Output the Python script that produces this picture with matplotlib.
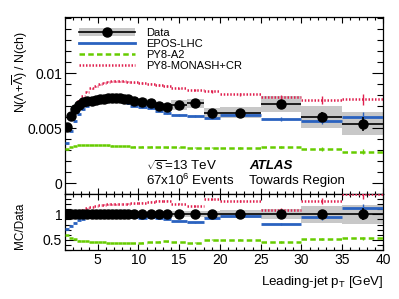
import matplotlib
matplotlib.use("Agg")
import matplotlib.pyplot as plt
import numpy as np
from matplotlib.patches import Patch
from matplotlib.lines import Line2D
from matplotlib.ticker import FixedLocator, MultipleLocator, FuncFormatter

plt.rcParams['font.family'] = ['Liberation Sans', 'DejaVu Sans']
plt.rcParams['mathtext.fontset'] = 'custom'
plt.rcParams['mathtext.rm'] = 'Liberation Sans'
plt.rcParams['mathtext.it'] = 'Liberation Sans:italic'
plt.rcParams['mathtext.bf'] = 'Liberation Sans:bold'

# ---- data ----
bin_edges = [1, 1.5, 2, 2.5, 3, 3.5, 4, 4.5, 5, 5.5, 6, 6.5, 7, 7.5, 8, 8.5, 9,
             10, 11, 12, 13, 14, 16, 18, 20, 25, 30, 35, 40]
data_vals = [0.0051, 0.0061, 0.0067, 0.0071, 0.00733, 0.00743, 0.0075, 0.00755,
             0.0076, 0.00765, 0.0077, 0.00773, 0.00776, 0.00772, 0.00768, 0.0076,
             0.0075, 0.0074, 0.00724, 0.00703, 0.00694, 0.0071, 0.00724, 0.0064,
             0.0064, 0.0072, 0.0060, 0.0054]
data_stat_rel = [0.005, 0.005, 0.005, 0.005, 0.005, 0.005, 0.005, 0.005,
                 0.005, 0.005, 0.005, 0.005, 0.006, 0.006, 0.006, 0.007,
                 0.008, 0.009, 0.010, 0.012, 0.014, 0.015, 0.02, 0.025,
                 0.035, 0.05, 0.08, 0.12]
data_tot_rel = [0.04, 0.04, 0.04, 0.04, 0.04, 0.04, 0.04, 0.04,
                0.04, 0.04, 0.04, 0.04, 0.04, 0.04, 0.04, 0.045,
                0.045, 0.05, 0.05, 0.05, 0.05, 0.06, 0.06, 0.07,
                0.08, 0.10, 0.16, 0.19]
epos_vals = [0.0036, 0.0047, 0.0056, 0.0063, 0.0067, 0.0070, 0.00715, 0.0073,
             0.0074, 0.00748, 0.00752, 0.00755, 0.00752, 0.00745, 0.00735, 0.00724,
             0.00705, 0.00688, 0.0068, 0.00658, 0.00633, 0.00618, 0.00612, 0.00588,
             0.00618, 0.00582, 0.00566, 0.00603]
a2_vals = [0.00305, 0.0033, 0.0034, 0.00345, 0.00347, 0.00348, 0.00347, 0.00346,
           0.00345, 0.00344, 0.00342, 0.0034, 0.00339, 0.00338, 0.00336, 0.00334,
           0.00332, 0.0033, 0.0033, 0.00328, 0.00326, 0.00325, 0.00322, 0.0032,
           0.0032, 0.0033, 0.0031, 0.00285]
monash_vals = [0.0048, 0.0060, 0.0068, 0.0075, 0.0079, 0.0083, 0.0086, 0.0088,
               0.00898, 0.00912, 0.0092, 0.00925, 0.00927, 0.00927, 0.00925, 0.0092,
               0.00915, 0.00908, 0.00905, 0.0089, 0.0088, 0.0086, 0.00845, 0.00835,
               0.00806, 0.0078, 0.00755, 0.0076]
mc_stat_rel = [0.003, 0.003, 0.003, 0.003, 0.003, 0.003, 0.003, 0.003,
               0.003, 0.003, 0.004, 0.004, 0.004, 0.004, 0.005, 0.005,
               0.006, 0.007, 0.008, 0.009, 0.01, 0.01, 0.012, 0.015,
               0.02, 0.03, 0.05, 0.07]
legend_labels = ['Data', 'EPOS-LHC', 'PY8-A2', 'PY8-MONASH+CR']

# ---- derived ----
edges = np.array(bin_edges, dtype=float)
lo, hi = edges[:-1], edges[1:]
xc = 0.5 * (lo + hi)
hw = 0.5 * (hi - lo)
d = np.array(data_vals)
dstat = d * np.array(data_stat_rel)
dtot = d * np.array(data_tot_rel)
mcs = [(np.array(epos_vals), '#2a62c0', '-', 2.0),
       (np.array(a2_vals), '#66cc00', (0, (2.2, 1.3)), 1.8),
       (np.array(monash_vals), '#e0204f', (0, (0.6, 0.7)), 1.8)]
mstat = np.array(mc_stat_rel)

band_col = '#c8c8c8'

fig = plt.figure(figsize=(3.99, 2.99), dpi=100)
W, H = 399.0, 299.0
L, R, T, M, B = 65, 383, 17, 194, 250
ax = fig.add_axes([L / W, 1 - M / H, (R - L) / W, (M - T) / H])
axr = fig.add_axes([L / W, 1 - B / H, (R - L) / W, (B - M) / H], sharex=ax)

# top panel
for i in range(len(d)):
    ax.fill_between([lo[i], hi[i]], d[i] - dtot[i], d[i] + dtot[i],
                    color=band_col, lw=0, zorder=1)
for vals, col, ls, lw in mcs:
    ax.hlines(vals, lo, hi, colors=col, linestyles=[ls], lw=lw, zorder=3)
    ax.vlines(xc, vals * (1 - mstat), vals * (1 + mstat), colors=col, lw=1.0, zorder=3)
ax.errorbar(xc, d, xerr=hw, yerr=dstat, fmt='o', color='black', ms=6.5,
            elinewidth=1.2, capsize=0, zorder=5)

# ratio panel
for i in range(len(d)):
    axr.fill_between([lo[i], hi[i]], 1 - data_tot_rel[i], 1 + data_tot_rel[i],
                     color=band_col, lw=0, zorder=1)
for vals, col, ls, lw in mcs:
    r = vals / d
    axr.hlines(r, lo, hi, colors=col, linestyles=[ls], lw=lw, zorder=3)
    axr.vlines(xc, r * (1 - mstat), r * (1 + mstat), colors=col, lw=1.0, zorder=3)
axr.errorbar(xc, np.ones_like(d), xerr=hw, yerr=np.array(data_stat_rel), fmt='o',
             color='black', ms=6.5, elinewidth=1.2, capsize=0, zorder=5)

# axes settings
ax.set_xlim(1, 40)
ax.set_ylim(-0.001, 0.0151)
axr.set_ylim(0.3, 1.4)

ax.yaxis.set_major_locator(FixedLocator([0, 0.005, 0.01]))
ax.yaxis.set_minor_locator(MultipleLocator(0.001))
ax.yaxis.set_major_formatter(FuncFormatter(lambda v, p: '%g' % round(v, 4)))
axr.yaxis.set_major_locator(FixedLocator([0.5, 1.0]))
axr.yaxis.set_minor_locator(MultipleLocator(0.1))
axr.yaxis.set_major_formatter(FuncFormatter(lambda v, p: '%g' % v))
axr.xaxis.set_major_locator(MultipleLocator(5))
axr.xaxis.set_minor_locator(MultipleLocator(1))

for a in (ax, axr):
    a.tick_params(which='both', direction='in', top=True, right=True, labelsize=10,
                  width=0.8)
    a.tick_params(axis='y', which='major', length=8, pad=2)
    a.tick_params(axis='y', which='minor', length=4)
    a.tick_params(axis='x', which='major', length=4)
    a.tick_params(axis='x', which='minor', length=2.2)
    for s in a.spines.values():
        s.set_linewidth(0.9)
ax.tick_params(labelbottom=False)
axr.tick_params(axis='x', pad=2)

# legend
h_data = (Patch(facecolor=band_col, edgecolor='none'),
          Line2D([], [], color='black', marker='o', ms=6.5, lw=1.2))
h_mc = [Line2D([], [], color=c, ls=ls, lw=lw) for _, c, ls, lw in mcs]
ax.legend([h_data] + h_mc, legend_labels, loc='upper left',
          bbox_to_anchor=(0.045, 0.937), frameon=False, fontsize=8,
          handlelength=5.0, handletextpad=1.0, labelspacing=0.08, borderpad=0,
          borderaxespad=0)

# texts
ax.text(0.255, 0.16, r'$\sqrt{\mathrm{s}}$=13 TeV', transform=ax.transAxes,
        fontsize=9.6, va='center', ha='left')
ax.text(0.255, 0.075, r'67x10$^{6}$ Events', transform=ax.transAxes,
        fontsize=9.6, va='center', ha='left')
ax.text(0.578, 0.16, 'ATLAS', transform=ax.transAxes, fontsize=9.6,
        fontweight='bold', fontstyle='italic', va='center', ha='left')
ax.text(0.578, 0.075, 'Towards Region', transform=ax.transAxes,
        fontsize=9.6, va='center', ha='left')

fig.text(20 / W, 1 - 31 / H, r'N($\Lambda$+$\overline{\Lambda}$) / N(ch)',
         rotation=90, ha='center', va='top', fontsize=8.8)
fig.text(20 / W, 1 - 226 / H, 'MC/Data', rotation=90, ha='center', va='center',
         fontsize=8.5)
fig.text(383 / W, 1 - 282 / H, r'Leading-jet p$_{\mathrm{T}}$ [GeV]', ha='right',
         va='center', fontsize=9.6)

fig.savefig('out.png', dpi=100)
